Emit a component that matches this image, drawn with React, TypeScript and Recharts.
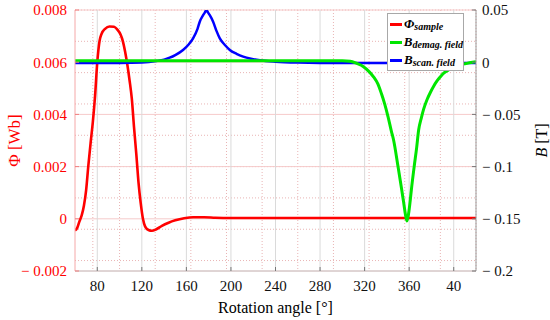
import React from 'react';
import { LineChart, Line, XAxis, YAxis, CartesianGrid, Legend } from 'recharts';

// ---- data ----
const phiAngles = [60, 62, 64, 66, 68, 70, 72, 74, 76, 78, 80, 82, 84, 87, 91, 95, 98, 101, 103, 105, 107, 109, 111, 113, 115, 117, 119, 121, 123, 126, 129, 133, 138, 144, 150, 158, 166, 176, 186, 200, 300, 420];
const phiValues = [-0.00045, -0.00035, -0.0001, 0.00013, 0.0005, 0.0011, 0.00205, 0.0029, 0.0037, 0.0047, 0.006, 0.0068, 0.0071, 0.00728, 0.00737, 0.00736, 0.00725, 0.00705, 0.0068, 0.0064, 0.0059, 0.0053, 0.0046, 0.0035, 0.0025, 0.0014, 0.0006, 0.0, -0.0003, -0.00043, -0.00046, -0.0004, -0.00027, -0.00015, -0.00006, 0.00002, 0.00006, 0.00006, 0.00004, 0.00003, 0.00003, 0.00003];

const scanAngles = [60, 100, 120, 133, 140, 145, 150, 157, 162, 166, 170, 172, 175, 176.5, 178, 179.5, 181, 184, 187, 190, 195, 199, 205, 211, 218, 226, 240, 260, 300, 420];
const scanValues = [-0.0008, -0.0007, -0.0003, 0.0011, 0.0025, 0.0043, 0.0068, 0.0117, 0.017, 0.0229, 0.032, 0.0388, 0.045, 0.0475, 0.0498, 0.0475, 0.045, 0.0388, 0.03, 0.0229, 0.016, 0.0117, 0.008, 0.0053, 0.0033, 0.0018, 0.0005, -0.0003, -0.0008, -0.0008];

const demagAngles = [60, 300, 307, 313, 319, 324, 328, 332, 335, 338, 341, 344, 346, 350, 353, 355, 357, 358, 359.5, 361, 362, 364.5, 366.7, 368.5, 371, 373, 376, 379, 382, 385, 388, 391, 396, 402, 410, 420];
const demagValues = [0.0014, 0.0014, 0.001, -0.0012, -0.0043, -0.009, -0.014, -0.021, -0.0298, -0.04, -0.0522, -0.066, -0.0745, -0.1, -0.12, -0.134, -0.148, -0.152, -0.145, -0.132, -0.122, -0.1, -0.082, -0.065, -0.053, -0.045, -0.036, -0.029, -0.023, -0.018, -0.014, -0.0105, -0.007, -0.004, -0.0015, 0.0005];

const xTicks = [80, 120, 160, 200, 240, 280, 320, 360, 400];
const phiTicks = [-0.002, 0, 0.002, 0.004, 0.006, 0.008];
const bTicks = [-0.2, -0.15, -0.1, -0.05, 0, 0.05];

const legendItems = [
  { main: 'Φ', sub: 'sample', color: '#ff0000' },
  { main: 'B', sub: 'demag. field', color: '#00e600' },
  { main: 'B', sub: 'scan. field', color: '#0000ff' },
];

const toRows = (xs: number[], ys: number[]) => xs.map((a, i) => ({ angle: a, v: ys[i] }));
const phiData = toRows(phiAngles, phiValues);
const scanData = toRows(scanAngles, scanValues);
const demagData = toRows(demagAngles, demagValues);

const phiMinor = Array.from({ length: 26 }, (_, i) => Number((-0.002 + i * 0.0004).toFixed(4)));
const xMinor = Array.from({ length: 46 }, (_, i) => 60 + i * 8);

const FONT = 'Liberation Serif, DejaVu Serif, Noto Serif, Times New Roman, serif';

const fmtNum = (v: number) => (v < 0 ? '\u2212 ' + String(Math.abs(v)) : String(v));
const fmtAngle = (v: number) => String(v > 360 ? v - 360 : v);

const makeTick = (fill: string, fmt: (v: number) => string, dy: string) => (props: any) => {
  const { x, y, payload, textAnchor } = props;
  return (
    <text x={x} y={y} dy={dy} textAnchor={textAnchor} fill={fill} style={{ fontFamily: FONT, fontSize: 15 }}>
      {fmt(payload.value)}
    </text>
  );
};

const XTick = makeTick('#111', fmtAngle, '0.71em');
const LeftTick = makeTick('#ff0000', fmtNum, '0.355em');
const RightTick = makeTick('#111', fmtNum, '0.355em');

const LeftLabel = (props: any) => {
  const vb = props.viewBox || { x: 0, y: 10, width: 75, height: 261 };
  const cx = vb.x + 14;
  const cy = vb.y + vb.height / 2;
  return (
    <text x={cx} y={cy} transform={`rotate(-90 ${cx} ${cy})`} textAnchor="middle" dominantBaseline="central"
      fill="#ff0000" style={{ fontFamily: FONT, fontSize: 17 }}>
      Φ [Wb]
    </text>
  );
};

const RightLabel = (props: any) => {
  const vb = props.viewBox || { x: 476, y: 10, width: 74, height: 261 };
  const cx = vb.x + 65;
  const cy = vb.y + vb.height / 2;
  return (
    <text x={cx} y={cy} transform={`rotate(-90 ${cx} ${cy})`} textAnchor="middle" dominantBaseline="central"
      fill="#000" style={{ fontFamily: FONT, fontSize: 16 }}>
      <tspan fontStyle="italic">B</tspan>
      <tspan> [T]</tspan>
    </text>
  );
};

const BottomLabel = (props: any) => {
  const vb = props.viewBox || { x: 75, y: 271, width: 401, height: 49 };
  const cx = vb.x + vb.width / 2;
  return (
    <text x={cx} y={vb.y + 42} textAnchor="middle" fill="#000" style={{ fontFamily: FONT, fontSize: 16 }}>
      Rotation angle [°]
    </text>
  );
};

const LegendBox = () => (
  <div
    style={{
      width: 77,
      height: 58,
      boxSizing: 'border-box',
      border: '1px solid #a8a8a8',
      background: '#fff',
      paddingTop: 1,
      fontFamily: FONT,
      fontWeight: 'bold',
      fontStyle: 'italic',
      color: '#000',
    }}
  >
    {legendItems.map((it) => (
      <div key={it.sub} style={{ height: 18, lineHeight: '18px', whiteSpace: 'nowrap', display: 'flex', alignItems: 'center' }}>
        <span style={{ display: 'inline-block', width: 12, height: 3, background: it.color, marginLeft: 2, marginRight: 2 }} />
        <span style={{ fontSize: 13 }}>{it.main}</span>
        <span style={{ fontSize: 10, position: 'relative', top: 3 }}>{it.sub}</span>
      </div>
    ))}
  </div>
);

export default function App() {
  return (
    <div style={{ position: 'absolute', left: 0, top: 0, width: 550, height: 320, background: '#fff', fontFamily: FONT }}>
      <LineChart width={550} height={320} margin={{ top: 10, right: 0, bottom: 0, left: 0 }}>
        <CartesianGrid yAxisId="left" horizontalValues={phiMinor} verticalValues={xMinor}
          stroke="#e9b4b4" strokeDasharray="1 2" />
        <CartesianGrid yAxisId="left" horizontalValues={phiTicks} vertical={false} stroke="#f6caca" />
        <CartesianGrid yAxisId="left" horizontal={false} verticalValues={xTicks} stroke="#dadada" />
        <XAxis
          dataKey="angle"
          type="number"
          domain={[60, 420]}
          ticks={xTicks}
          allowDataOverflow
          height={49}
          tickSize={-4}
          tickMargin={13}
          axisLine={{ stroke: '#c4c4c4' }}
          tickLine={{ stroke: '#777' }}
          tick={<XTick />}
          label={<BottomLabel />}
        />
        <XAxis
          xAxisId="top"
          orientation="top"
          dataKey="angle"
          type="number"
          domain={[60, 420]}
          ticks={xTicks}
          allowDataOverflow
          height={0}
          tickSize={-4}
          tick={false}
          axisLine={{ stroke: '#c4c4c4' }}
          tickLine={{ stroke: '#777' }}
        />
        <YAxis
          yAxisId="left"
          type="number"
          domain={[-0.002, 0.008]}
          ticks={phiTicks}
          allowDataOverflow
          width={75}
          tickSize={-4}
          tickMargin={12}
          axisLine={{ stroke: '#f5a8a8' }}
          tickLine={{ stroke: '#f08080' }}
          tick={<LeftTick />}
          label={<LeftLabel />}
        />
        <YAxis
          yAxisId="right"
          orientation="right"
          type="number"
          domain={[-0.2, 0.05]}
          ticks={bTicks}
          allowDataOverflow
          width={74}
          tickSize={-4}
          tickMargin={10}
          axisLine={{ stroke: '#9a9a9a' }}
          tickLine={{ stroke: '#777' }}
          tick={<RightTick />}
          label={<RightLabel />}
        />
        <Line yAxisId="left" data={phiData} dataKey="v" type="monotone" stroke="#ff0000" strokeWidth={2.6}
          dot={false} activeDot={false} isAnimationActive={false} name="phi" />
        <Line yAxisId="right" data={scanData} dataKey="v" type="monotone" stroke="#0000ff" strokeWidth={2.5}
          dot={false} activeDot={false} isAnimationActive={false} name="scan" />
        <Line yAxisId="right" data={demagData} dataKey="v" type="monotone" stroke="#00e600" strokeWidth={3}
          dot={false} activeDot={false} isAnimationActive={false} name="demag" />
        <Legend
          layout="vertical"
          align="center"
          verticalAlign="middle"
          content={() => <LegendBox />}
          wrapperStyle={{ position: 'absolute', left: 387, top: 13, width: 77, height: 58, margin: 0, padding: 0 }}
        />
      </LineChart>
    </div>
  );
}
